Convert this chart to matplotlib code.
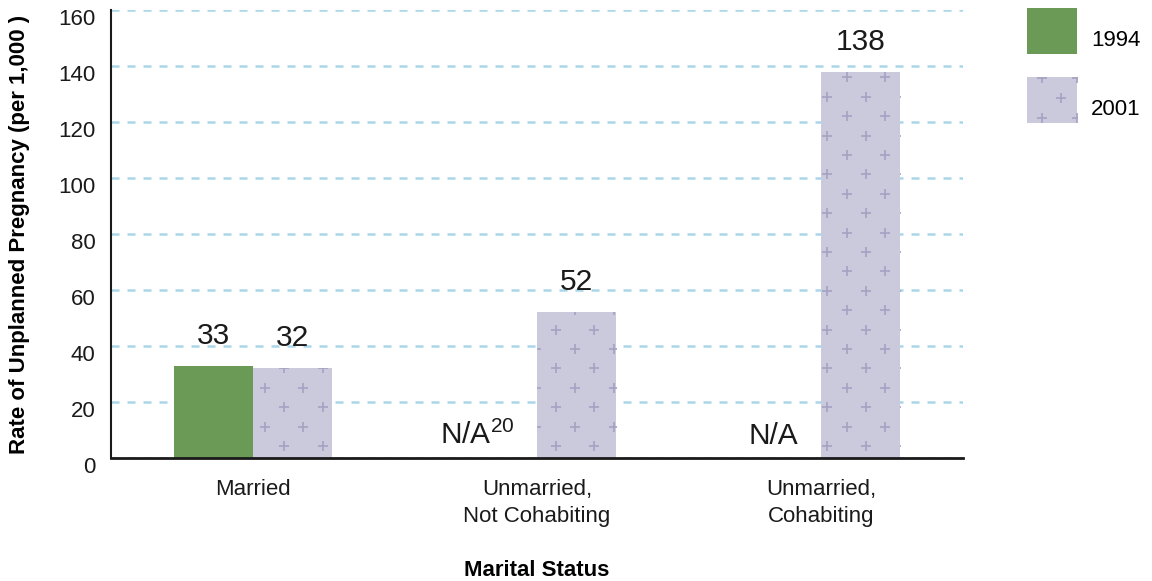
import numpy as np
import matplotlib.pyplot as plt
from matplotlib.patches import Rectangle
from matplotlib.lines import Line2D
from matplotlib.legend_handler import HandlerBase
from matplotlib.transforms import ScaledTranslation

plt.rcParams['font.family'] = ['Liberation Sans', 'DejaVu Sans']
plt.rcParams['mathtext.fontset'] = 'custom'
plt.rcParams['mathtext.rm'] = 'Liberation Sans'

categories = ['Married', 'Unmarried,\nNot Cohabiting', 'Unmarried,\nCohabiting']
years = ['1994', '2001']
rate_1994 = [33, None, None]
rate_2001 = [32, 52, 138]
na_labels = [None, r'N/A$^{20}$', 'N/A']

green = '#6b9a56'
lav = '#cbcadc'
plus_col = '#a5a3c3'
grid_col = '#a9d6ea'
txt = '#1a1a1a'


def plus_fill(ax, patch, step=19.4):
    # staggered '+' pattern anchored to the axes corner, clipped to the bar
    fig = ax.figure
    fig.canvas.draw()
    bb = patch.get_window_extent()
    ab = ax.get_window_extent()
    pts = []
    for j in range(int((bb.y1 - ab.y0) / step) + 2):
        y = ab.y0 + 12 + j * step
        for i in range(int((ab.x1 - ab.x0) / step) + 2):
            if (i + j) % 2:
                continue
            xx = ab.x0 + 17.8 + i * step
            if bb.x0 - 8 < xx < bb.x1 + 8 and y < bb.y1 + 8:
                pts.append((xx, y))
    pts = np.array(pts)
    data = ax.transData.inverted().transform(pts)
    ln, = ax.plot(data[:, 0], data[:, 1], ls='none', marker='+', ms=6.5,
                  mew=1.25, color=plus_col, zorder=3)
    ln.set_clip_path(patch)


class PlusHandler(HandlerBase):
    def create_artists(self, legend, orig, xd, yd, w, h, fs, trans):
        rect = Rectangle((-xd, -yd), w, h, facecolor=lav, edgecolor='none',
                         transform=trans)
        xs = [-xd + w * 0.3, -xd + w * 0.68, -xd + w * 0.3, -xd + w * 1.0, -xd + w * 1.0]
        ys = [-yd + h * 0.12, -yd + h * 0.55, -yd + h * 0.98, -yd + h * 0.12, -yd + h * 0.98]
        ln = Line2D(xs, ys, ls='none', marker='+', ms=6.5, mew=1.25,
                    color=plus_col, transform=trans)
        ln.set_clip_path(rect)
        return [rect, ln]


fig = plt.figure(figsize=(11.52, 5.81), dpi=100)
ax = fig.add_axes([111 / 1152, 1 - 458 / 581, (963 - 111) / 1152, (458 - 10) / 581])

x = np.arange(len(categories))
w = 0.278

ax.set_xlim(-0.5, 2.5)
ax.set_ylim(0, 160)

for i, v in enumerate(rate_1994):
    if v is not None:
        ax.bar(x[i] - w / 2, v, width=w, color=green, zorder=2)
        ax.annotate(str(v), (x[i] - w / 2, v), xytext=(0, 11.5), textcoords='offset points',
                    ha='center', va='bottom', fontsize=21.5, color=txt)
    else:
        ax.text(x[i] - 0.08, 5, na_labels[i], ha='right', va='baseline',
                fontsize=21.5, color=txt)

bars01 = ax.bar(x + w / 2, rate_2001, width=w, color=lav, zorder=2)
for i, v in enumerate(rate_2001):
    ax.annotate(str(v), (x[i] + w / 2, v), xytext=(0, 11.5), textcoords='offset points',
                ha='center', va='bottom', fontsize=21.5, color=txt)
for b in bars01:
    plus_fill(ax, b)

ax.set_yticks(np.arange(0, 161, 20))
ax.yaxis.grid(True, color=grid_col, ls=(0, (3.2, 3.2)), lw=1.8)
ax.set_axisbelow(True)
ax.set_xticks(x)
ax.set_xticklabels(categories, fontsize=16, linespacing=1.4)
ax.tick_params(axis='x', length=0, pad=15, colors=txt)
ax.tick_params(axis='y', length=0, pad=11, labelsize=16, colors=txt)
for s in ['top', 'right']:
    ax.spines[s].set_visible(False)
ax.spines['left'].set_linewidth(1.5)
ax.spines['bottom'].set_linewidth(2)
ax.spines['left'].set_color(txt)
ax.spines['bottom'].set_color(txt)

# y tick labels sit a little below their gridlines in the reference
shift = ScaledTranslation(0, -0.07, fig.dpi_scale_trans)
for lab in ax.get_yticklabels():
    lab.set_transform(lab.get_transform() + shift)

ax.set_ylabel('Rate of Unplanned Pregnancy (per 1,000 )', fontsize=16, fontweight='bold')
ax.yaxis.set_label_coords((30 - 111) / 852, 0.5)
ax.set_xlabel('Marital Status', fontsize=16, fontweight='bold')
ax.xaxis.set_label_coords(0.5, -(560 - 458) / 448)

h1 = Rectangle((0, 0), 1, 1, facecolor=green)
h2 = Rectangle((0, 0), 1, 1, facecolor=lav)
leg = fig.legend([h1, h2], years, loc='upper left', bbox_to_anchor=(1027 / 1152, 1 - 8 / 581),
                 frameon=False, fontsize=16, handlelength=2.25, handleheight=2.81,
                 labelspacing=1.04, handletextpad=0.63, borderpad=0, borderaxespad=0,
                 handler_map={h2: PlusHandler()})
for t in leg.get_texts():
    t.set_y(-8)

fig.savefig('out.png', dpi=100)
